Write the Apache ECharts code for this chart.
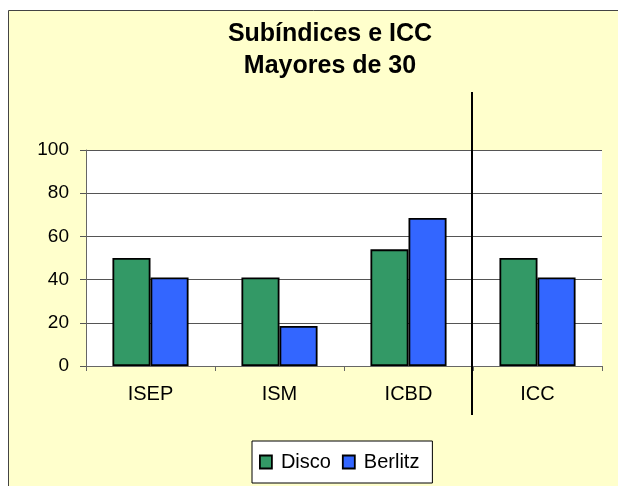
<!DOCTYPE html>
<html>
<head>
<meta charset="utf-8">
<script src="https://cdn.jsdelivr.net/npm/echarts@6/dist/echarts.min.js"></script>
<style>
  html, body { margin: 0; padding: 0; background: #ffffff; }
  #chart { width: 618px; height: 486px; }
</style>
</head>
<body>
<div id="chart"></div>
<script>
// datos del gráfico
const categories = ['ISEP', 'ISM', 'ICBD', 'ICC']
const disco = [50, 41, 54, 50]
const berlitz = [41, 18.5, 68.5, 41]
const yTicks = [0, 20, 40, 60, 80, 100]

const chart = echarts.init(document.getElementById('chart'))

const barBorder = { borderColor: '#000000', borderWidth: 1.8 }

const option = {
  animation: false,
  textStyle: { fontFamily: 'Liberation Sans, Arial, sans-serif' },
  title: {
    text: 'Subíndices e ICC\nMayores de 30',
    left: 325,
    textAlign: 'center',
    top: 13,
    textStyle: { fontSize: 25, fontWeight: 'bold', color: '#000', lineHeight: 32 }
  },
  legend: {
    bottom: 3,
    left: 252,
    itemWidth: 12,
    itemHeight: 13,
    itemGap: 11,
    padding: [11, 13, 11, 7],
    backgroundColor: '#ffffff',
    borderColor: '#000000',
    borderWidth: 1,
    borderRadius: 0,
    textStyle: { fontSize: 20, color: '#000', padding: [0, 0, 0, 4] },
    data: [
      { name: 'Disco', icon: 'rect', itemStyle: barBorder },
      { name: 'Berlitz', icon: 'rect', itemStyle: barBorder }
    ]
  },
  grid: {
    left: 86,
    right: 16,
    top: 150,
    bottom: 120,
    show: true,
    backgroundColor: '#ffffff',
    borderWidth: 0
  },
  xAxis: {
    type: 'category',
    data: categories,
    axisLine: { lineStyle: { color: '#666', width: 1 } },
    axisTick: { show: true, length: 5, inside: false, lineStyle: { color: '#666' } },
    axisLabel: { fontSize: 20, color: '#000', margin: 18 }
  },
  yAxis: {
    type: 'value',
    min: yTicks[0],
    max: yTicks[yTicks.length - 1],
    interval: 20,
    axisLine: { show: true, lineStyle: { color: '#666', width: 1 } },
    axisTick: { show: true, length: 6, lineStyle: { color: '#555' } },
    axisLabel: { fontSize: 19, color: '#000', margin: 17 },
    splitLine: { lineStyle: { color: '#555', width: 1 } }
  },
  series: [
    {
      name: 'Disco',
      type: 'bar',
      data: disco,
      barGap: '0%',
      barCategoryGap: '41%',
      itemStyle: Object.assign({ color: '#339966' }, barBorder)
    },
    {
      name: 'Berlitz',
      type: 'bar',
      data: berlitz,
      itemStyle: Object.assign({ color: '#3366FF' }, barBorder)
    }
  ]
}

chart.setOption(option)

// fondo del área del gráfico y línea separadora entre ICBD e ICC
const xa = chart.convertToPixel({ xAxisIndex: 0 }, 'ICBD')
const xb = chart.convertToPixel({ xAxisIndex: 0 }, 'ICC')
const sepX = Math.round((xa + xb) / 2) - 1
const yTop = chart.convertToPixel({ yAxisIndex: 0 }, 100)
const yBase = chart.convertToPixel({ yAxisIndex: 0 }, 0)

chart.setOption({
  graphic: [
    {
      type: 'rect',
      z: -100,
      silent: true,
      shape: { x: 8.5, y: 10.5, width: 700, height: 600 },
      style: { fill: '#FFFFCC', stroke: '#444', lineWidth: 1 }
    },
    {
      type: 'line',
      z: 100,
      silent: true,
      shape: { x1: sepX, y1: yTop - 58, x2: sepX, y2: yBase + 49 },
      style: { stroke: '#000', lineWidth: 2 }
    }
  ]
})
</script>
</body>
</html>
